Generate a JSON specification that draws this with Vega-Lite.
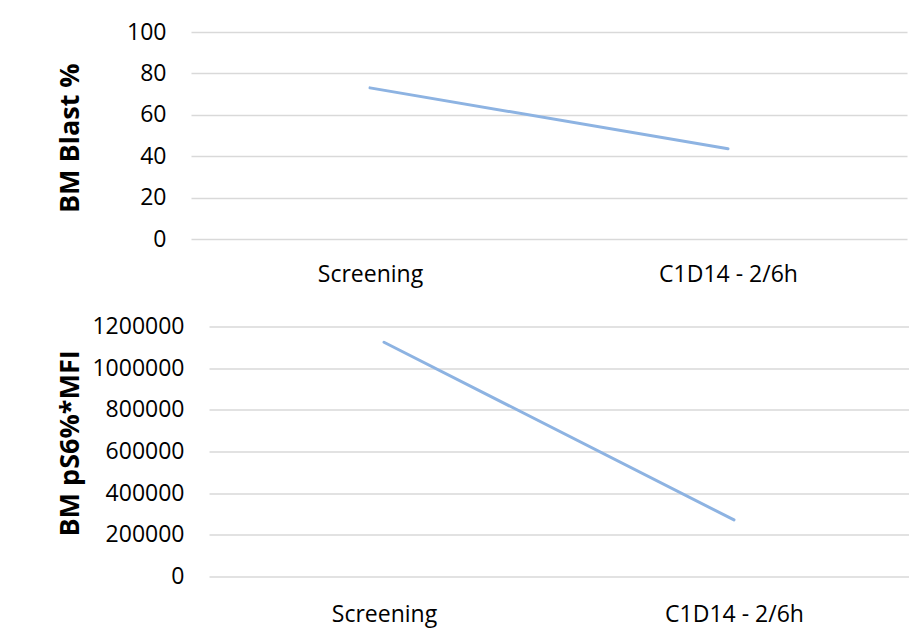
{
  "$schema": "https://vega.github.io/schema/vega-lite/v6.json",
  "background": "white",
  "padding": {"left": 56, "top": 21, "right": 0, "bottom": 18},
  "datasets": {
    "blast": [
      {"visit": "Screening", "blast_pct": 73.0},
      {"visit": "C1D14 - 2/6h", "blast_pct": 43.6}
    ],
    "ps6": [
      {"visit": "Screening", "ps6_mfi": 1125000},
      {"visit": "C1D14 - 2/6h", "ps6_mfi": 272000}
    ]
  },
  "bounds": "full",
  "spacing": 28.6,
  "vconcat": [
    {
      "width": 716,
      "height": 207,
      "data": {"name": "blast"},
      "mark": {"type": "line", "color": "#8db3e2", "strokeWidth": 3, "strokeCap": "round"},
      "encoding": {
        "x": {
          "field": "visit",
          "type": "nominal",
          "sort": null,
          "scale": {"type": "point", "padding": 0.5},
          "axis": {"title": null, "labelAngle": 0, "labelBaseline": "alphabetic", "labelPadding": 42.5, "grid": false}
        },
        "y": {
          "field": "blast_pct",
          "type": "quantitative",
          "scale": {"domain": [0, 100], "nice": false},
          "axis": {
            "title": "BM Blast %",
            "values": [0, 20, 40, 60, 80, 100],
            "labelPadding": 25,
            "titleX": -112.3,
            "titleY": 105.7,
            "titleBaseline": "alphabetic"
          }
        }
      }
    },
    {
      "width": 718,
      "height": 250,
      "data": {"name": "ps6"},
      "mark": {"type": "line", "color": "#8db3e2", "strokeWidth": 3, "strokeCap": "round"},
      "encoding": {
        "x": {
          "field": "visit",
          "type": "nominal",
          "sort": null,
          "scale": {"type": "point", "padding": 0.5, "range": [18, 718]},
          "axis": {"title": null, "labelAngle": 0, "labelBaseline": "alphabetic", "labelPadding": 45, "grid": false}
        },
        "y": {
          "field": "ps6_mfi",
          "type": "quantitative",
          "scale": {"domain": [0, 1200000], "nice": false},
          "axis": {
            "title": "BM pS6%*MFI",
            "values": [0, 200000, 400000, 600000, 800000, 1000000, 1200000],
            "format": "d",
            "labelPadding": 7,
            "titleX": -112.7,
            "titleY": 116.3,
            "titleBaseline": "alphabetic"
          }
        }
      }
    }
  ],
  "config": {
    "font": "Open Sans",
    "view": {"stroke": null},
    "axis": {
      "labelFont": "Open Sans",
      "labelFontSize": 23,
      "labelColor": "#000000",
      "titleFont": "Open Sans",
      "titleFontSize": 27,
      "titleFontWeight": "bold",
      "titleColor": "#000000",
      "domain": false,
      "ticks": false,
      "tickSize": 0,
      "gridColor": "#d9d9d9",
      "gridWidth": 1.5,
      "labelOverlap": false,
      "labelFlush": false
    }
  }
}
